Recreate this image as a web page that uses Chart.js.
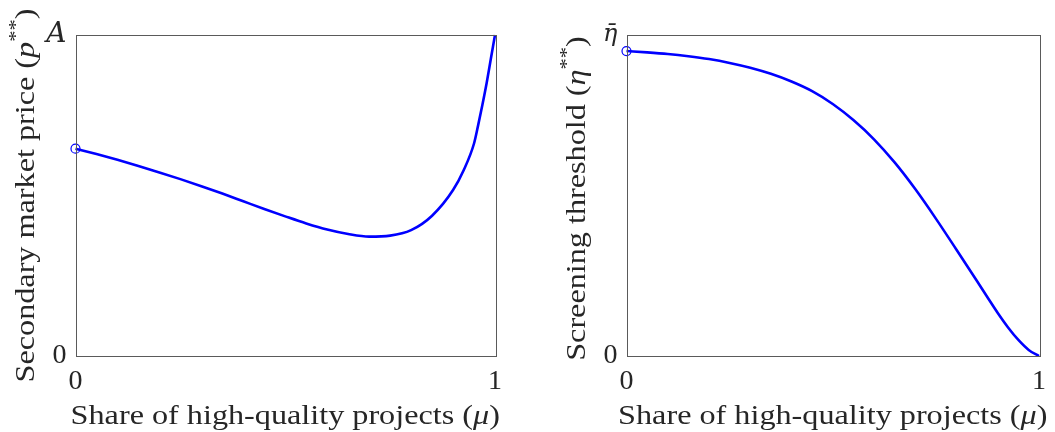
<!DOCTYPE html>
<html><head><meta charset="utf-8">
<script src="https://cdn.jsdelivr.net/npm/chart.js@4"></script>
<style>
body{margin:0;background:#fff;width:1055px;height:432px;overflow:hidden;position:relative}
.c{position:absolute;top:0;height:432px}
</style></head><body>
<div class="c" style="left:0;width:527px"><canvas id="c1"></canvas></div>
<div class="c" style="left:551px;width:504px"><canvas id="c2"></canvas></div>
<script>
// ---- data ----
const priceMu  = [0, 0.05, 0.1, 0.15, 0.2, 0.25, 0.3, 0.35, 0.4, 0.45, 0.5, 0.55, 0.6, 0.65, 0.7, 0.75, 0.8, 0.85, 0.9, 0.925, 0.95, 0.96, 0.97, 0.98, 0.99, 1];
const priceVal = [0.646, 0.629, 0.611, 0.592, 0.572, 0.551, 0.529, 0.506, 0.482, 0.458, 0.435, 0.413, 0.394, 0.380, 0.372, 0.375, 0.392, 0.437, 0.517, 0.578, 0.662, 0.720, 0.783, 0.850, 0.925, 1.0];
const screenMu  = [0, 0.05, 0.1, 0.15, 0.2, 0.25, 0.3, 0.35, 0.4, 0.45, 0.5, 0.55, 0.6, 0.65, 0.7, 0.75, 0.8, 0.85, 0.875, 0.9, 0.925, 0.95, 0.975, 1];
const screenVal = [0.950, 0.946, 0.941, 0.934, 0.925, 0.913, 0.898, 0.879, 0.855, 0.825, 0.785, 0.735, 0.675, 0.603, 0.520, 0.428, 0.331, 0.233, 0.183, 0.134, 0.089, 0.050, 0.019, 0];
const xTickLabels = ['0', '1'];
const priceYTicks = ['0', 'A'];
const screenYTicks = ['0', 'η̄'];
const xTitle = [{t:'Share of high-quality projects (', i:false}, {t:'μ', i:true}, {t:')', i:false}];
const priceTitle = [{t:'Secondary market price (', i:false}, {t:'p', i:true}, {t:'**', sup:true}, {t:')', i:false}];
const screenTitle = [{t:'Screening threshold (', i:false}, {t:'η', i:true}, {t:'**', sup:true}, {t:')', i:false}];

const FAM = '"Liberation Serif", "Times New Roman", serif';
const FS = 28;
const STRETCH = 1.15;
const TXT = '#262626';

function fontStr(seg, size){
  const s = seg.sup ? size*0.7 : size;
  return (seg.i ? 'italic ' : '') + s + 'px ' + FAM;
}
function drawRich(ctx, segs, cx, cy, rot, size){
  ctx.save();
  ctx.translate(cx, cy);
  if (rot) ctx.rotate(-Math.PI/2);
  ctx.scale(STRETCH, 1);
  let w = 0;
  for (const s of segs){ ctx.font = fontStr(s, size); w += ctx.measureText(s.t).width; }
  let x = -w/2;
  ctx.fillStyle = TXT;
  ctx.textBaseline = 'alphabetic';
  for (const s of segs){
    ctx.font = fontStr(s, size);
    ctx.fillText(s.t, x, size*0.35 - (s.sup ? size*0.42 : 0));
    x += ctx.measureText(s.t).width;
  }
  ctx.restore();
}

function makeChart(id, mus, vals, yTicks, yTitle){
  const boxPlugin = {
    id: 'box',
    afterDraw(chart){
      const {ctx, chartArea:a} = chart;
      ctx.save();
      ctx.strokeStyle = '#5a5a5a';
      ctx.lineWidth = 1;
      ctx.strokeRect(Math.round(a.left)+0.5, Math.round(a.top)+0.5, Math.round(a.right-a.left), Math.round(a.bottom-a.top));
      ctx.restore();
      drawRich(ctx, xTitle, (a.left+a.right)/2, 414, false, FS);
      drawRich(ctx, yTitle, 24, (a.top+a.bottom)/2 + (id === 'c2' ? 3 : 0), true, FS);
    }
  };
  return new Chart(document.getElementById(id), {
    type: 'line',
    data: { datasets: [{
      data: mus.map((m,i)=>({x:m, y:vals[i]})),
      borderColor: '#0000ff',
      borderWidth: 2.6,
      cubicInterpolationMode: 'monotone',
      pointRadius: c => c.dataIndex === 0 ? 4.5 : 0,
      pointBorderColor: '#0000ff',
      pointBackgroundColor: 'rgba(0,0,0,0)',
      pointBorderWidth: 1.2,
      clip: false
    }]},
    options: {
      responsive: true, maintainAspectRatio: false, animation: false,
      layout: { padding: { top: 35, right: id==='c1' ? 32 : 9, left: 0, bottom: 0 } },
      plugins: { legend: {display:false}, tooltip: {enabled:false} },
      scales: {
        x: {
          type: 'linear', min: 0, max: 1,
          afterBuildTicks: s => { s.ticks = [{value:0},{value:1}]; },
          ticks: { callback: v => xTickLabels[v], padding: 9, color: TXT, maxRotation: 0,
                   font: { family: FAM, size: FS } },
          grid: { display: false, drawTicks: false },
          border: { display: false },
          afterFit: s => { s.height = 76; }
        },
        y: {
          type: 'linear', min: 0, max: 1,
          afterBuildTicks: s => { s.ticks = [{value:0},{value:1}]; },
          ticks: { callback: v => yTicks[v], padding: 9, color: TXT,
                   font: c => ({ family: (c.tick && c.tick.value === 1) ? '"DejaVu Serif", serif' : FAM,
                                 size: (c.tick && c.tick.value === 1 && id === 'c2') ? 24 : FS,
                                 style: (c.tick && c.tick.value === 1) ? 'italic' : 'normal' }) },
          grid: { display: false, drawTicks: false },
          border: { display: false },
          afterFit: s => { s.width = 75.5; }
        }
      }
    },
    plugins: [boxPlugin]
  });
}
makeChart('c1', priceMu, priceVal, priceYTicks, priceTitle);
makeChart('c2', screenMu, screenVal, screenYTicks, screenTitle);
</script>
</body></html>
